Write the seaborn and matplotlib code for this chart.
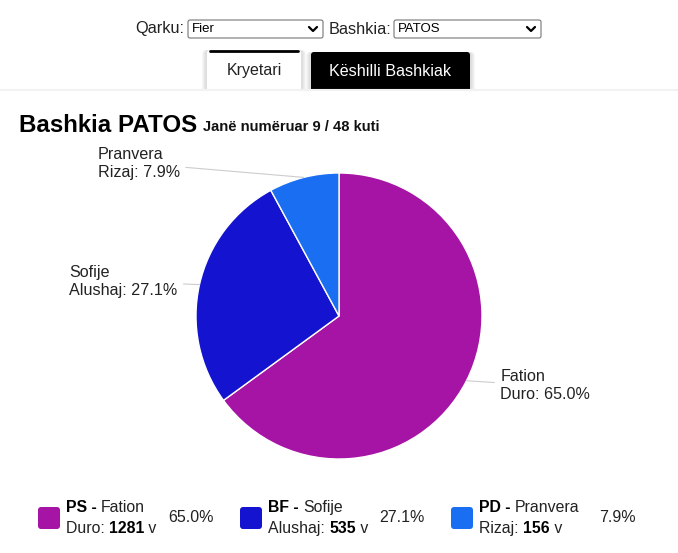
import matplotlib
matplotlib.use('Agg')
import numpy as np
import matplotlib.pyplot as plt
import seaborn as sns
from matplotlib.patches import FancyBboxPatch
from matplotlib.offsetbox import TextArea, HPacker, VPacker, AnnotationBbox

sns.set_style('white')
plt.rcParams['font.family'] = ['Liberation Sans', 'DejaVu Sans']

# data
parties = ['PS', 'BF', 'PD']
first_names = ['Fation', 'Sofije', 'Pranvera']
last_names = ['Duro', 'Alushaj', 'Rizaj']
votes = [1281, 535, 156]
colors = ['#a614a6', '#1414d0', '#1a6ef2']
region = 'Fier'
municipality = 'PATOS'
counted, total_boxes = 9, 48

shares = np.array(votes) / sum(votes) * 100

fig = plt.figure(figsize=(6.78, 5.53), dpi=100)
bg = fig.add_axes([0, 0, 1, 1])
bg.set_xlim(0, 678)
bg.set_ylim(553, 0)
bg.axis('off')

# --- page header: selectors and tabs ---
bg.text(184, 29, 'Qarku:', ha='right', va='center', fontsize=11.7, color='#222')
bg.text(391, 29, 'Bashkia:', ha='right', va='center', fontsize=11.7, color='#222')
for x, w, label in [(188, 135, region), (394, 147, municipality)]:
    bg.add_patch(FancyBboxPatch((x, 20), w, 18, boxstyle='round,pad=0,rounding_size=2',
                                fc='white', ec='#767676', lw=0.8))
    bg.text(x + 4, 29.5, label, va='center', fontsize=9.5, color='black')
    cx = x + w - 10
    bg.plot([cx - 4, cx, cx + 4], [27, 31, 27], color='black', lw=1.6, solid_capstyle='round')

for i in range(4):
    bg.add_patch(FancyBboxPatch((207 - 2 - i, 50), 94 + 4 + 2 * i, 42 + i,
                                boxstyle='round,pad=0,rounding_size=4',
                                fc='black', ec='none', alpha=0.03))
    bg.add_patch(FancyBboxPatch((311 - 2 - i, 52), 159 + 4 + 2 * i, 40 + i,
                                boxstyle='round,pad=0,rounding_size=4',
                                fc='black', ec='none', alpha=0.03))
bg.add_patch(FancyBboxPatch((207, 50), 94, 42, boxstyle='round,pad=0,rounding_size=3',
                            fc='white', ec='none'))
bg.plot([210, 298], [50.5, 50.5], color='black', lw=2)
bg.text(254, 71, 'Kryetari', ha='center', va='center', fontsize=11.5, color='#222')
bg.add_patch(FancyBboxPatch((311, 52), 159, 40, boxstyle='round,pad=0,rounding_size=3',
                            fc='black', ec='none'))
bg.text(390, 71, 'Këshilli Bashkiak', ha='center', va='center', fontsize=11.6, color='white')
bg.add_patch(plt.Rectangle((0, 90), 678, 10, fc='white', ec='none'))
bg.plot([0, 678], [90, 90], color='#f2f2f2', lw=1.5)

# --- title ---
bg.text(19, 126, f'Bashkia {municipality}', va='center', fontsize=17.4, weight='bold', color='black')
bg.text(203, 127, f'Janë numëruar {counted} / {total_boxes} kuti', va='center',
        fontsize=10.6, weight='bold', color='#111')

# --- pie ---
r_px, cx_px, cy_px = 143, 339, 316
ax = fig.add_axes([(cx_px - r_px) / 678, (553 - cy_px - r_px) / 553, 2 * r_px / 678, 2 * r_px / 553])
wedges, _ = ax.pie(votes, colors=colors, startangle=90, counterclock=False, radius=1,
                   wedgeprops=dict(edgecolor='white', linewidth=1))
ax.set_xlim(-1, 1)
ax.set_ylim(-1, 1)
ax.set_aspect('equal')
ax.axis('off')

offsets = [(34, -5), (-22, 3), (-124, 14)]
for w, fn, ln, s, off in zip(wedges, first_names, last_names, shares, offsets):
    th = np.deg2rad((w.theta1 + w.theta2) / 2)
    ha = 'left' if off[0] > 0 else 'right'
    ax.annotate(f'{fn}\n{ln}: {s:.1f}%', xy=(np.cos(th), np.sin(th)), xytext=off,
                textcoords='offset pixels', ha=ha, va='center', fontsize=11.6, color='#222',
                linespacing=1.22, multialignment='left',
                arrowprops=dict(arrowstyle='-', color='#cccccc', lw=0.8, shrinkA=2, shrinkB=0),
                annotation_clip=False)

# --- legend ---
box_x = [38, 240, 451]
pct_x = [168, 379, 599]
for p, fn, ln, v, s, c, bx, px in zip(parties, first_names, last_names, votes, shares, colors, box_x, pct_x):
    bg.add_patch(FancyBboxPatch((bx, 507), 22, 22, boxstyle='round,pad=0,rounding_size=3',
                                fc=c, ec='none'))
    tp = dict(fontsize=11.4, color='#222')
    tb = dict(fontsize=11.4, color='black', weight='bold')
    row1 = HPacker(children=[TextArea(f'{p} - ', textprops=tb), TextArea(fn, textprops=tp)],
                   pad=0, sep=0)
    row2 = HPacker(children=[TextArea(f'{ln}: ', textprops=tp), TextArea(str(v), textprops=tb),
                             TextArea(' v', textprops=tp)], pad=0, sep=0)
    block = VPacker(children=[row1, row2], pad=0, sep=4, align='left')
    bg.add_artist(AnnotationBbox(block, (bx + 28, 518), xycoords='data', box_alignment=(0, 0.5),
                                 frameon=False, pad=0))
    bg.text(px, 518, f'{s:.1f}%', va='center', fontsize=11.5, color='#222')

fig.savefig('out.png', dpi=100)
